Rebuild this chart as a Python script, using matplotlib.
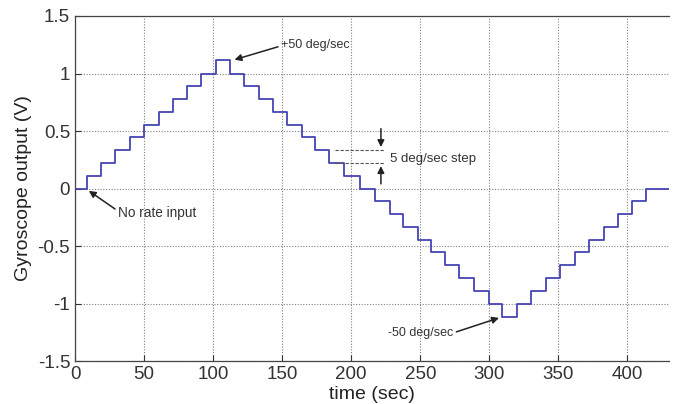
import matplotlib
matplotlib.use("Agg")
import matplotlib.pyplot as plt

plt.rcParams['font.family'] = ['Liberation Sans', 'DejaVu Sans']

# step start times (sec) and the output level held from each time (V)
step_times = [0, 8.5, 18.5, 29, 39.5, 50, 60.5, 71, 81, 91.5, 102,
              112, 122.5, 133, 143, 153.5, 164, 174, 184, 195, 206, 217, 228,
              237.5, 248, 258, 268, 278, 289, 300,
              309.5,
              320, 330, 341, 351, 362, 372.5, 383, 393.5, 403.5, 413.5,
              430]
levels = [0, 0.11, 0.22, 0.335, 0.445, 0.555, 0.665, 0.78, 0.89, 1.0, 1.115,
          1.0, 0.89, 0.78, 0.665, 0.555, 0.445, 0.335, 0.22, 0.11, 0, -0.11, -0.22,
          -0.335, -0.445, -0.555, -0.665, -0.78, -0.89, -1.0,
          -1.115,
          -1.0, -0.89, -0.78, -0.665, -0.555, -0.445, -0.335, -0.22, -0.11, 0,
          0]

x_ticks = [0, 50, 100, 150, 200, 250, 300, 350, 400]
y_ticks = [-1.5, -1, -0.5, 0, 0.5, 1, 1.5]
y_tick_labels = ['-1.5', '-1', '-0.5', '0', '0.5', '1', '1.5']

fig = plt.figure(figsize=(6.77, 4.04), dpi=100)
ax = fig.add_axes([0.1108, 0.1064, 0.8772, 0.854])

ax.plot(step_times, levels, drawstyle='steps-post', color='#4444b4', lw=1.3)

ax.set_xlim(0, 430)
ax.set_ylim(-1.5, 1.5)
ax.set_xticks(x_ticks)
ax.set_yticks(y_ticks)
ax.set_yticklabels(y_tick_labels)
ax.tick_params(direction='in', labelsize=13.5, colors='#333333', length=4, width=0.8)
ax.grid(True, linestyle=(0, (1, 1.5)), color='#808080', lw=0.8)
for s in ['left', 'bottom', 'top']:
    ax.spines[s].set_color('#444444')
    ax.spines[s].set_linewidth(0.9)
ax.spines['right'].set_visible(False)

ax.set_xlabel('time (sec)', fontsize=14, color='#222222', labelpad=2)
ax.set_ylabel('Gyroscope output (V)', fontsize=14, color='#222222', labelpad=4)

arrow = dict(arrowstyle='-|>', color='#222222', lw=1.1, mutation_scale=10,
             shrinkA=0, shrinkB=0)

ax.annotate('+50 deg/sec', xy=(115.5, 1.12), xytext=(149, 1.25),
            fontsize=9, color='#333333', va='center', ha='left',
            arrowprops=dict(arrow, relpos=(0, 0.4)))
ax.annotate('No rate input', xy=(10, -0.02), xytext=(31, -0.21),
            fontsize=9.8, color='#333333', va='center', ha='left',
            arrowprops=dict(arrow, relpos=(-0.02, 0.7)))
ax.annotate('-50 deg/sec', xy=(307, -1.125), xytext=(226.5, -1.257),
            fontsize=9, color='#333333', va='center', ha='left',
            arrowprops=dict(arrow, relpos=(1.05, 0.6)))

# 5 deg/sec step marker
ax.plot([188, 224], [0.335, 0.335], color='#555555', lw=0.8, ls=(0, (3, 1.5)))
ax.plot([188, 224], [0.22, 0.22], color='#555555', lw=0.8, ls=(0, (3, 1.5)))
ax.annotate('', xy=(221.5, 0.36), xytext=(221.5, 0.52), arrowprops=arrow)
ax.annotate('', xy=(221.5, 0.195), xytext=(221.5, 0.04), arrowprops=arrow)
ax.text(228, 0.26, '5 deg/sec step', fontsize=9.5, color='#333333',
        va='center', ha='left')

fig.savefig('out.png', dpi=100)
